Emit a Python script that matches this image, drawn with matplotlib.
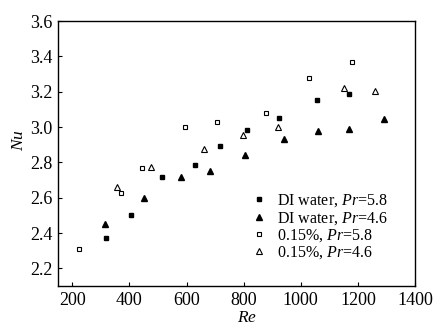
import matplotlib
matplotlib.use('Agg')
import matplotlib.pyplot as plt

plt.rcParams['font.family'] = ['Liberation Serif', 'DejaVu Serif']
plt.rcParams['mathtext.fontset'] = 'custom'
plt.rcParams['mathtext.it'] = 'Liberation Serif:italic'
plt.rcParams['mathtext.rm'] = 'Liberation Serif'

# DI water, Pr=5.8
di58_re = [319, 407, 513, 628, 718, 813, 924, 1057, 1170]
di58_nu = [2.371, 2.50, 2.719, 2.787, 2.891, 2.981, 3.051, 3.153, 3.187]

# DI water, Pr=4.6
di46_re = [316, 451, 580, 683, 804, 943, 1060, 1170, 1291]
di46_nu = [2.451, 2.60, 2.715, 2.749, 2.84, 2.93, 2.979, 2.99, 3.044]

# 0.15%, Pr=5.8
nf58_re = [223, 371, 443, 594, 707, 880, 1028, 1180]
nf58_nu = [2.308, 2.626, 2.766, 2.998, 3.027, 3.081, 3.278, 3.37]

# 0.15%, Pr=4.6
nf46_re = [356, 477, 662, 797, 921, 1150, 1261]
nf46_nu = [2.66, 2.772, 2.877, 2.957, 3.0, 3.221, 3.202]

labels = ['DI water, $Pr$=5.8', 'DI water, $Pr$=4.6',
          '0.15%, $Pr$=5.8', '0.15%, $Pr$=4.6']

fig = plt.figure(figsize=(4.39, 3.32), dpi=100)
ax = fig.add_axes([58 / 439, 1 - 286 / 332, 357 / 439, 265 / 332])

ax.plot(di58_re, di58_nu, 's', color='black', markersize=3.5, linestyle='none', label=labels[0])
ax.plot(di46_re, di46_nu, '^', color='black', markersize=5, linestyle='none', label=labels[1])
ax.plot(nf58_re, nf58_nu, 's', markerfacecolor='white', markeredgecolor='black',
        markeredgewidth=0.8, markersize=3.5, linestyle='none', label=labels[2])
ax.plot(nf46_re, nf46_nu, '^', markerfacecolor='white', markeredgecolor='black',
        markeredgewidth=0.8, markersize=5, linestyle='none', label=labels[3])

ax.set_xlim(150, 1400)
ax.set_ylim(2.1, 3.6)
ax.set_xticks([200, 400, 600, 800, 1000, 1200, 1400])
ax.set_yticks([2.2, 2.4, 2.6, 2.8, 3.0, 3.2, 3.4, 3.6])
ax.set_yticklabels(['2.2', '2.4', '2.6', '2.8', '3.0', '3.2', '3.4', '3.6'])
ax.tick_params(direction='in', length=3, labelsize=13, pad=4)

ax.set_xlabel('$Re$', fontsize=12.5)
ax.xaxis.set_label_coords(0.53, -0.092)
ax.set_ylabel('$Nu$', fontsize=12.5)
ax.yaxis.set_label_coords(-0.088, 0.55)

for s in ax.spines.values():
    s.set_linewidth(1.0)

ax.legend(loc='center left', bbox_to_anchor=(0.5227, 0.2232), frameon=False,
          fontsize=11.5, handlelength=1.0, handletextpad=0.6, labelspacing=0.03,
          borderaxespad=0)

fig.savefig('out.png', dpi=100)
